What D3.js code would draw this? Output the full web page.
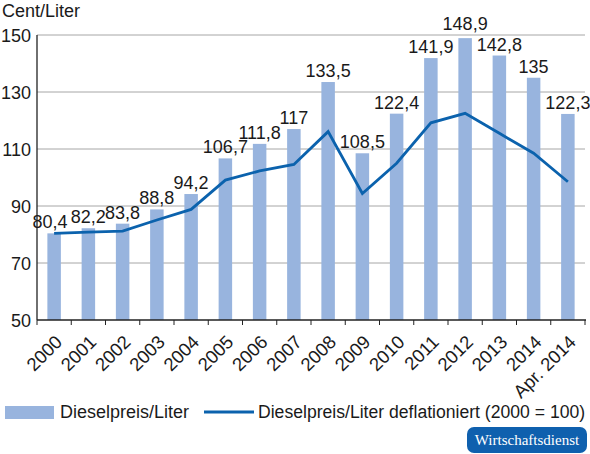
<!DOCTYPE html>
<html>
<head>
<meta charset="utf-8">
<script src="https://cdn.jsdelivr.net/npm/d3@7"></script>
<style>
  body { margin: 0; background: #fff; }
  svg text { font-family: "Liberation Sans", Arial, sans-serif; fill: #1a1a1a; }
</style>
</head>
<body>
<div id="chart"></div>
<script>
// data
var years = ["2000","2001","2002","2003","2004","2005","2006","2007","2008","2009","2010","2011","2012","2013","2014","Apr. 2014"];
var preis = [80.4, 82.2, 83.8, 88.8, 94.2, 106.7, 111.8, 117, 133.5, 108.5, 122.4, 141.9, 148.9, 142.8, 135, 122.3];
var deflationiert = [80.4, 80.8, 81.2, 85.1, 88.8, 99.1, 102.3, 104.6, 116.1, 94.4, 105.0, 119.2, 122.5, 115.5, 108.5, 98.5];
var yTicks = [50, 70, 90, 110, 130, 150];

var width = 590, height = 454;
var plotLeft = 37, plotRight = 585, plotTop = 35, plotBottom = 320;

var svg = d3.select("#chart").append("svg")
  .attr("width", width)
  .attr("height", height);

var xc = d3.scaleBand().domain(years).range([plotLeft, plotRight]);
var y = d3.scaleLinear().domain([50, 150]).range([plotBottom, plotTop]);

var fmt = function(v) { return String(v).replace(".", ","); };

// gridlines
svg.selectAll(".grid").data(yTicks.slice(1)).enter().append("line")
  .attr("x1", plotLeft).attr("x2", plotRight)
  .attr("y1", function(d) { return y(d); })
  .attr("y2", function(d) { return y(d); })
  .attr("stroke", "#a6a6a6").attr("stroke-width", 1);

// y tick labels
svg.selectAll(".ytick").data(yTicks).enter().append("text")
  .attr("x", 31).attr("y", function(d) { return y(d) + 6.5; })
  .attr("text-anchor", "end")
  .style("font-size", "18px")
  .text(function(d) { return d; });

svg.append("text").attr("x", 2).attr("y", 17)
  .style("font-size", "18px").text("Cent/Liter");

// bars
svg.selectAll(".bar").data(preis).enter().append("rect")
  .attr("x", function(d, i) { return xc(years[i]) + (xc.bandwidth() - 13.5) / 2; })
  .attr("width", 13.5)
  .attr("y", function(d) { return y(d); })
  .attr("height", function(d) { return plotBottom - y(d); })
  .attr("fill", "#98b4de");

// line
var line = d3.line()
  .x(function(d, i) { return xc(years[i]) + xc.bandwidth() / 2; })
  .y(function(d) { return y(d); });

svg.append("path")
  .attr("d", line(deflationiert))
  .attr("fill", "none")
  .attr("stroke", "#0b62ad")
  .attr("stroke-width", 2.8)
  .attr("stroke-linejoin", "miter");

// value labels
svg.selectAll(".val").data(preis).enter().append("text")
  .attr("x", function(d, i) { return xc(years[i]) + xc.bandwidth() / 2 - (i === 0 ? 4 : 0); })
  .attr("y", function(d, i) { return y(d) - (i === 12 ? 8 : 5); })
  .attr("text-anchor", "middle")
  .style("font-size", "18px")
  .text(fmt);

// axes lines
svg.append("line").attr("x1", plotLeft).attr("x2", plotLeft).attr("y1", plotTop).attr("y2", plotBottom)
  .attr("stroke", "#222").attr("stroke-width", 1.3);
svg.append("line").attr("x1", plotLeft).attr("x2", plotRight + 1).attr("y1", plotBottom).attr("y2", plotBottom)
  .attr("stroke", "#222").attr("stroke-width", 1.3);

// x ticks
var tickPos = years.map(function(d) { return xc(d); }).concat([plotRight]);
svg.selectAll(".xtick").data(tickPos).enter().append("line")
  .attr("x1", function(d) { return d; }).attr("x2", function(d) { return d; })
  .attr("y1", plotBottom).attr("y2", plotBottom + 5)
  .attr("stroke", "#222").attr("stroke-width", 1);

// x labels
svg.selectAll(".xlab").data(years).enter().append("text")
  .attr("transform", function(d) {
    return "translate(" + (xc(d) + xc.bandwidth() / 2) + "," + (plotBottom + 14) + ") rotate(-45)";
  })
  .attr("text-anchor", "end")
  .attr("dy", "0.7em")
  .style("font-size", "18.5px")
  .text(function(d) { return d; });

// legend
svg.append("rect").attr("x", 5).attr("y", 406).attr("width", 49).attr("height", 13).attr("fill", "#98b4de");
svg.append("text").attr("x", 60).attr("y", 418).style("font-size", "18px").text("Dieselpreis/Liter");
svg.append("line").attr("x1", 204).attr("x2", 254).attr("y1", 412).attr("y2", 412)
  .attr("stroke", "#0b62ad").attr("stroke-width", 2.8);
svg.append("text").attr("x", 258).attr("y", 418).style("font-size", "17.6px")
  .text("Dieselpreis/Liter deflationiert (2000 = 100)");

// badge
svg.append("rect").attr("x", 467).attr("y", 427).attr("width", 120).attr("height", 26)
  .attr("rx", 7).attr("fill", "#0f60ae");
svg.append("text").attr("x", 527).attr("y", 445).attr("text-anchor", "middle")
  .style("font-family", "'Liberation Serif', 'DejaVu Serif', serif")
  .style("font-size", "15px").style("fill", "#fff")
  .text("Wirtschaftsdienst");
</script>
</body>
</html>
